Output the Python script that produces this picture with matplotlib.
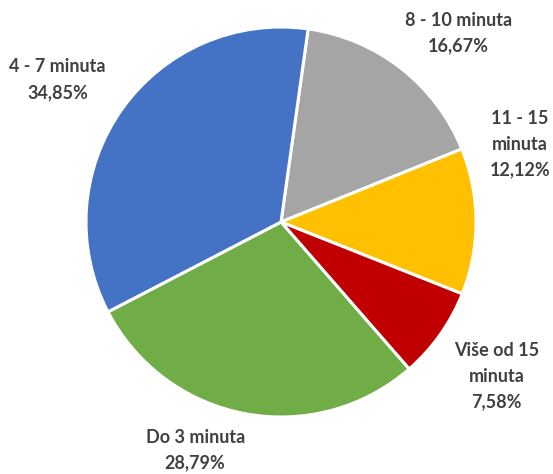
import matplotlib
matplotlib.use("Agg")
import matplotlib.pyplot as plt

categories = ["8 - 10 minuta", "11 - 15\nminuta", "Više od 15\nminuta", "Do 3 minuta", "4 - 7 minuta"]
values = [16.67, 12.12, 7.58, 28.79, 34.85]
pct_labels = ["16,67%", "12,12%", "7,58%", "28,79%", "34,85%"]
colors = ["#A5A5A5", "#FFC000", "#C00000", "#70AD47", "#4472C4"]
# label positions in data units (radius = 1)
label_pos = [(0.91, 0.97), (1.225, 0.40), (1.105, -0.79), (-0.44, -1.17), (-1.145, 0.73)]

fig = plt.figure(figsize=(5.53, 4.74), dpi=100)
ax = fig.add_axes([(281 - 195) / 553, (474 - 222 - 195) / 474, 390 / 553, 390 / 474])
ax.pie(values, colors=colors, startangle=82, counterclock=False, radius=1,
       wedgeprops=dict(edgecolor="white", linewidth=2.2))
ax.set_xlim(-1, 1)
ax.set_ylim(-1, 1)
ax.set_aspect("equal")
ax.axis("off")

for cat, pct, (x, y) in zip(categories, pct_labels, label_pos):
    ax.text(x, y, f"{cat}\n{pct}", ha="center", va="center", fontsize=13,
            fontweight="bold", family=["Lato", "DejaVu Sans"], color="#404040",
            linespacing=1.6, clip_on=False)

fig.savefig("out.png", dpi=100)
